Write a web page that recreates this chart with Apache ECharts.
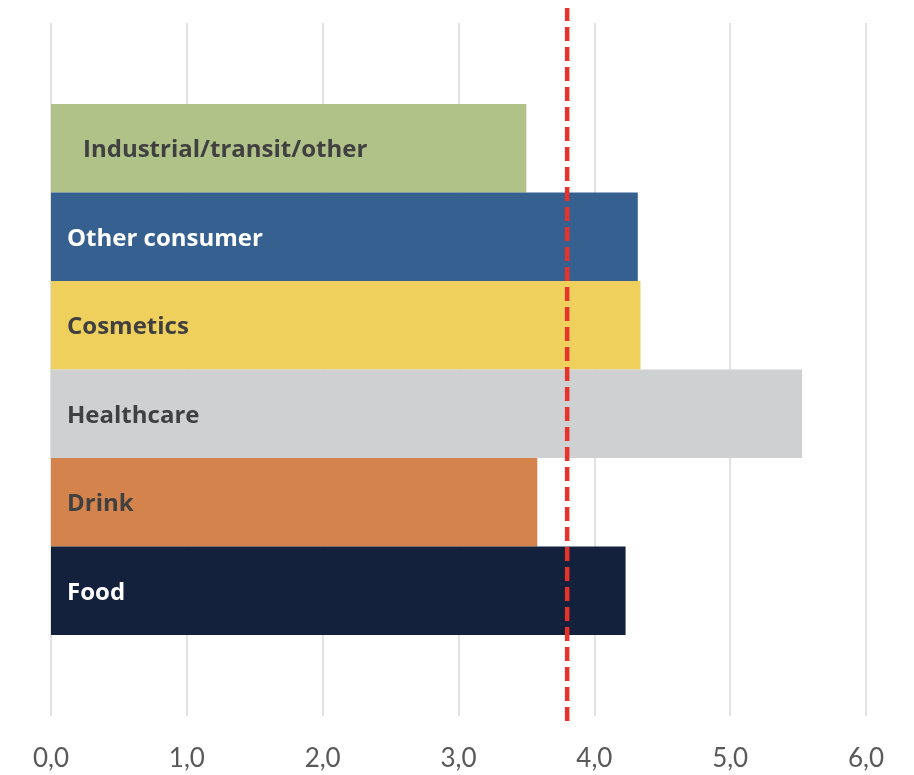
<!DOCTYPE html>
<html>
<head>
<meta charset="utf-8">
<script src="https://cdn.jsdelivr.net/npm/echarts@6/dist/echarts.min.js"></script>
<style>
  html, body { margin: 0; padding: 0; background: #fff; }
  #chart { width: 914px; height: 775px; }
</style>
</head>
<body>
<div id="chart"></div>
<script>
// data
const categories = ['Industrial/transit/other', 'Other consumer', 'Cosmetics', 'Healthcare', 'Drink', 'Food'];
const values = [3.50, 4.32, 4.34, 5.53, 3.58, 4.23];
const averageValue = 3.80;
const xTicks = [0, 1, 2, 3, 4, 5, 6];

// styling
const barColors = ['#b0c288', '#35608f', '#efd05d', '#cfd0d2', '#d5834c', '#13213d'];
const labelColors = ['#404040', '#ffffff', '#404040', '#404040', '#404040', '#ffffff'];
const labelDistance = [32, 16, 16, 16, 16, 16];

const chart = echarts.init(document.getElementById('chart'));

const xBase = {
  type: 'value',
  min: xTicks[0],
  max: xTicks[xTicks.length - 1],
  interval: 1
};

const option = {
  animation: false,
  grid: [
    // grid lines + tick labels
    { left: 51, right: 48, top: 23, bottom: 775 - 716 },
    // bars
    { left: 51, right: 48, top: 104, bottom: 775 - 635 },
    // average line
    { left: 51, right: 48, top: 8, bottom: 775 - 721 }
  ],
  xAxis: [
    Object.assign({}, xBase, {
      gridIndex: 0,
      axisLine: { show: false },
      axisTick: { show: false },
      splitLine: { show: true, lineStyle: { color: '#d9d9d9', width: 1.5 } },
      axisLabel: {
        margin: 30,
        fontSize: 26,
        fontFamily: 'Lato',
        color: '#595959',
        formatter: v => v.toFixed(1).replace('.', ',')
      }
    }),
    Object.assign({}, xBase, { gridIndex: 1, show: false, splitLine: { show: false } }),
    Object.assign({}, xBase, { gridIndex: 2, show: false, splitLine: { show: false } })
  ],
  yAxis: [
    { type: 'value', gridIndex: 0, min: 0, max: 1, show: false, splitLine: { show: false } },
    {
      type: 'category',
      gridIndex: 1,
      inverse: true,
      data: categories,
      show: false
    },
    { type: 'value', gridIndex: 2, min: 0, max: 1, show: false, splitLine: { show: false } }
  ],
  series: [
    {
      type: 'bar',
      xAxisIndex: 1,
      yAxisIndex: 1,
      barCategoryGap: '0%',
      data: values.map((v, i) => ({
        value: v,
        itemStyle: { color: barColors[i] },
        label: { color: labelColors[i], distance: labelDistance[i] }
      })),
      label: {
        show: true,
        position: 'insideLeft',
        offset: [0, 2],
        formatter: '{b}',
        fontFamily: 'Open Sans',
        fontWeight: 'bold',
        fontSize: 24
      }
    },
    {
      type: 'line',
      xAxisIndex: 2,
      yAxisIndex: 2,
      symbol: 'none',
      data: [[averageValue, 0], [averageValue, 1]],
      lineStyle: { color: '#e8322a', width: 4.5, type: [14, 6] },
      z: 5
    }
  ]
};

option && chart.setOption(option);
</script>
</body>
</html>
